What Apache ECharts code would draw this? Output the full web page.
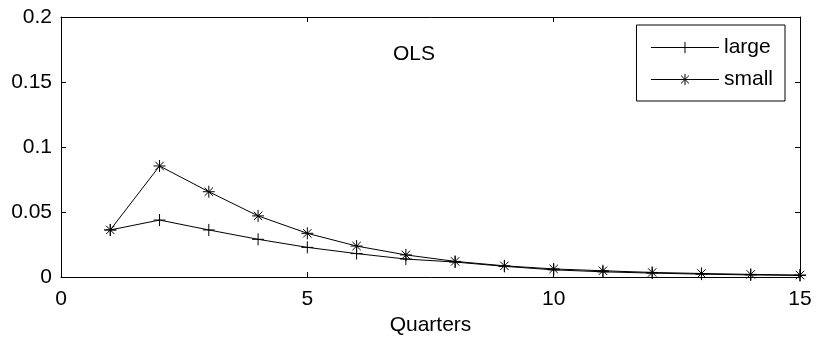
<!DOCTYPE html>
<html>
<head>
<meta charset="utf-8">
<script src="https://cdn.jsdelivr.net/npm/echarts@6/dist/echarts.min.js"></script>
<style>
  html, body { margin: 0; padding: 0; background: #fff; }
  #chart { width: 815px; height: 343px; }
</style>
</head>
<body>
<div id="chart"></div>
<script>
// ── Data ──────────────────────────────────────────────────────────────────────
const quarters = [1, 2, 3, 4, 5, 6, 7, 8, 9, 10, 11, 12, 13, 14, 15];
const largeVals = [0.0362, 0.0438, 0.0362, 0.029, 0.0228, 0.018, 0.0138, 0.0115, 0.0082, 0.0055, 0.004, 0.003, 0.0022, 0.0016, 0.0012];
const smallVals = [0.0362, 0.0854, 0.0656, 0.047, 0.0336, 0.0238, 0.017, 0.012, 0.0086, 0.0062, 0.0048, 0.0035, 0.0027, 0.002, 0.0015];
const xTicks = [0, 5, 10, 15];
const yTicks = [0, 0.05, 0.1, 0.15, 0.2];

// ── Marker shapes (stroked, MATLAB style) ─────────────────────────────────────
const PLUS = 'path://M0,5L10,5M5,0L5,10';
const STAR = 'path://M0,5L10,5M5,0L5,10M1.5,1.5L8.5,8.5M1.5,8.5L8.5,1.5';

const FONT = 'Liberation Sans, Arial, Helvetica, sans-serif';
const FS = 21;
// onZero off so the box axes stay on the top / right edges
const axisLine = { show: true, onZero: false, lineStyle: { color: '#000', width: 1 } };
const inTicks = { show: true, inside: true, length: 5, lineStyle: { color: '#000' } };

function series(name, vals, sym) {
  return {
    name,
    type: 'line',
    data: quarters.map((q, i) => [q, vals[i]]),
    symbol: sym,
    symbolSize: 12,
    showAllSymbol: true,
    lineStyle: { color: '#000', width: 1 },
    itemStyle: { color: 'transparent', borderColor: '#000', borderWidth: 1 },
    emphasis: { disabled: true },
    animation: false,
  };
}

const chart = echarts.init(document.getElementById('chart'), null, { renderer: 'canvas' });

chart.setOption({
  backgroundColor: '#fff',
  animation: false,
  textStyle: { fontFamily: FONT },
  title: {
    text: 'OLS',
    left: 414,
    top: 44,
    textAlign: 'center',
    padding: 0,
    textStyle: { fontFamily: FONT, fontSize: FS, fontWeight: 'normal', color: '#000' },
  },
  grid: { left: 61, right: 15, top: 17, bottom: 66 },
  legend: {
    orient: 'vertical',
    right: 30,
    top: 25,
    data: ['large', 'small'],
    itemWidth: 68,
    itemHeight: 14,
    itemGap: 11,
    padding: [12, 12, 11, 14],
    backgroundColor: '#fff',
    borderColor: '#000',
    borderWidth: 1,
    borderRadius: 0,
    lineStyle: { width: 1, color: '#000' },
    itemStyle: { color: 'transparent', borderColor: '#000', borderWidth: 1 },
    textStyle: { fontFamily: FONT, fontSize: FS, color: '#000' },
  },
  xAxis: [
    {
      type: 'value',
      min: 0, max: 15, interval: 5,
      name: 'Quarters',
      nameLocation: 'middle',
      nameGap: 38,
      nameTextStyle: { fontFamily: FONT, fontSize: FS, color: '#000' },
      axisLine, axisTick: inTicks,
      axisLabel: { color: '#000', fontSize: FS, fontFamily: FONT, margin: 12,
        formatter: v => (xTicks.includes(v) ? String(v) : '') },
      splitLine: { show: false },
    },
    {
      type: 'value', position: 'top',
      min: 0, max: 15, interval: 5,
      axisLine, axisTick: inTicks,
      axisLabel: { show: false },
      splitLine: { show: false },
    },
  ],
  yAxis: [
    {
      type: 'value',
      min: 0, max: 0.2, interval: 0.05,
      axisLine, axisTick: inTicks,
      axisLabel: { color: '#000', fontSize: FS, fontFamily: FONT, margin: 9,
        formatter: v => String(yTicks.find(t => Math.abs(t - v) < 1e-9) ?? '') },
      splitLine: { show: false },
    },
    {
      type: 'value', position: 'right',
      min: 0, max: 0.2, interval: 0.05,
      axisLine, axisTick: inTicks,
      axisLabel: { show: false },
      splitLine: { show: false },
    },
  ],
  series: [
    series('large', largeVals, PLUS),
    series('small', smallVals, STAR),
  ],
});
</script>
</body>
</html>
